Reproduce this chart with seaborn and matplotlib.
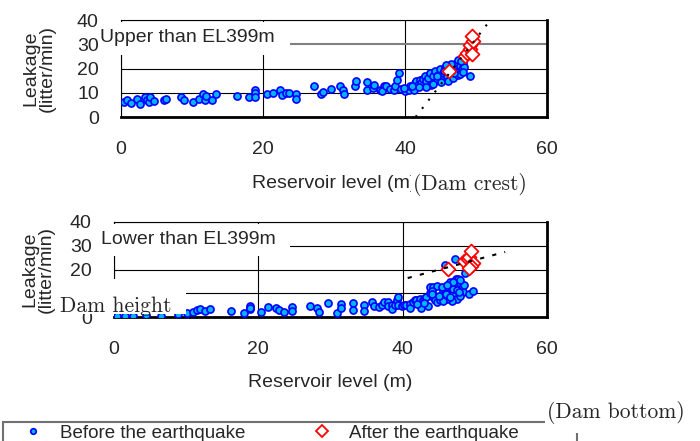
import seaborn as sns
import pandas as pd
import matplotlib.pyplot as plt
from matplotlib.patches import Rectangle
from matplotlib.lines import Line2D

# ---- data ----
# upper panel: "Upper than EL399m"
up_before_x = [0.4, 0.9, 1.4, 2.2, 2.7, 3.4, 3.6, 3.9, 4.1, 4.6, 6.0, 6.3, 8.4, 8.9, 10.1, 11.0,
               11.5, 11.9, 12.0, 12.8, 13.4, 16.3, 18.0, 18.9, 18.9, 18.9, 20.5, 21.4, 22.4, 22.7,
               23.3, 23.7, 24.7, 24.7, 27.2, 28.1, 28.5, 29.6, 30.8, 31.3, 31.4,
               33.0, 33.1, 34.6, 34.7, 35.5, 35.7, 36.5, 37.1,
               36.7, 37.3, 37.9, 38.4, 38.6, 38.9, 39.2, 39.4, 40.0, 40.5, 40.7, 41.2, 41.4, 41.6,
               41.9, 42.1, 42.3, 42.6, 42.8, 43.0, 43.3, 43.5, 43.7, 44.0, 44.2, 44.5, 44.7, 44.9,
               45.2, 45.4, 45.6, 45.9, 46.1, 46.3, 46.6, 46.8, 47.0, 47.3, 47.4, 47.5, 47.7, 48.0,
               48.2, 49.1, 47.2, 46.0, 45.0, 44.0, 43.0, 48.3, 47.8, 46.5, 45.5, 44.5, 42.0, 41.0,
               39.8, 47.9, 48.1, 46.9, 45.8]
up_before_y = [6.0, 7.1, 5.7, 7.4, 5.4, 8.1, 7.1, 6.0, 8.1, 6.7, 7.1, 7.6, 8.3, 7.2, 6.2, 7.5,
               9.3, 7.2, 8.5, 7.1, 9.6, 8.8, 8.1, 11.2, 9.7, 8.2, 9.3, 10.1, 11.0, 9.0,
               9.9, 9.9, 9.3, 7.6, 12.9, 9.6, 10.4, 11.5, 12.9, 11.0, 9.6,
               12.9, 15.0, 11.2, 14.3, 11.9, 13.2, 11.0, 12.6,
               10.8, 12.6, 11.5, 11.3, 12.6, 15.4, 18.2, 11.5, 10.9, 11.3, 12.6, 11.3, 14.0, 14.7,
               13.3, 15.4, 14.0, 15.7, 17.1, 14.7, 16.1, 18.2, 13.3, 16.8, 18.9, 15.4, 17.5, 19.6,
               16.1, 18.2, 20.3, 16.8, 14.7, 18.2, 20.3, 16.1, 21.7, 19.6, 23.5, 17.5, 21.0, 19.6,
               22.4, 16.8, 18.5, 19.8, 14.5, 13.5, 12.5, 20.5, 17.8, 22.0, 18.8, 17.0, 12.2, 12.8,
               11.8, 23.0, 18.4, 18.0, 21.3]
up_after_x = [46.2, 48.4, 48.7, 49.1, 49.2, 49.4, 49.6, 49.4]
up_after_y = [18.9, 25.1, 26.5, 27.9, 29.6, 25.8, 31.4, 33.5]
up_trend_x = [41.5, 52.0]
up_trend_y = [0.0, 39.9]

# lower panel: "Lower than EL399m"
low_before_x = [0.4, 1.5, 2.7, 4.5, 6.5, 8.9, 10.1, 11.0, 11.5, 11.9, 12.6, 13.3, 16.2, 18.0,
                18.8, 18.8, 18.9, 20.4, 21.4, 22.4, 22.8, 23.6, 24.7, 24.7, 27.2, 28.1, 28.4,
                29.6, 30.9, 31.4, 31.5, 33.1, 33.1, 34.7, 34.7, 35.7, 36.0, 36.7, 37.2, 37.4,
                37.9, 38.0, 38.5, 38.5, 38.9, 39.2, 39.4, 39.4, 39.9, 40.2, 40.5, 41.0, 41.0,
                41.5, 41.7, 41.9, 42.4, 42.6, 42.8, 43.1, 43.3, 43.5, 43.8, 44.2, 44.7, 43.8,
                44.0, 44.2, 44.5, 44.7, 45.2, 45.4, 45.6, 45.9, 46.1, 46.3, 46.5, 46.6, 46.8,
                47.0, 47.2, 47.4, 47.7, 47.9, 48.2, 48.3, 47.5, 46.8, 46.1, 45.6, 49.2, 49.7,
                45.9, 47.2, 48.6, 44.0, 45.0, 46.0, 47.0, 47.5, 48.0, 46.5, 45.5, 43.0, 42.0,
                48.5, 47.8, 47.0, 48.0, 46.2]
low_before_y = [0.4, 0.6, 0.4, 0.8, 0.6, 1.1, 1.5, 2.3, 2.9, 3.2, 2.6, 3.5, 2.5, 1.8,
                3.2, 4.6, 3.9, 2.1, 4.4, 3.8, 3.0, 2.1, 4.4, 2.4, 4.6, 3.6, 2.1,
                5.7, 1.5, 5.3, 3.8, 6.0, 2.9, 5.0, 2.4, 6.3, 4.6, 4.4, 5.0, 6.3,
                6.3, 4.6, 5.2, 3.5, 4.9, 7.2, 8.3, 4.9, 4.6, 5.2, 4.9, 5.5, 3.8,
                6.3, 7.2, 7.2, 7.7, 3.8, 7.2, 8.0, 8.6, 4.6, 12.8, 12.8, 13.1, 10.0,
                11.1, 8.6, 7.2, 6.3, 7.2, 8.6, 11.1, 10.0, 11.4, 12.5, 14.2, 14.7, 11.4,
                10.0, 13.4, 15.9, 16.1, 14.5, 12.2, 10.5, 7.7, 6.9, 7.7, 6.9, 9.7, 11.1,
                21.7, 24.3, 18.4, 9.5, 9.0, 9.5, 12.0, 11.5, 9.0, 8.5, 12.5, 6.0, 5.5,
                13.5, 10.5, 14.8, 15.5, 13.3]
low_after_x = [46.3, 48.5, 49.0, 49.2, 49.4, 49.8, 49.5, 49.2]
low_after_y = [20.2, 23.6, 24.5, 25.4, 27.9, 22.9, 21.4, 20.5]
low_trend_x = [40.7, 54.2]
low_trend_y = [16.4, 27.4]

x_ticks = [0, 20, 40, 60]
y_ticks = [0, 10, 20, 30, 40]

sns.set_style("white")
plt.rcParams["font.family"] = ["Liberation Sans", "DejaVu Sans"]
FS = 14
W, H = 700, 441
fig = plt.figure(figsize=(7, 4.41), dpi=100)


def fig_xy(x, y):
    return x / W, 1 - y / H


def white_box(x0, y0, x1, y1, z=5):
    fig.patches.append(Rectangle((x0 / W, 1 - y1 / H), (x1 - x0) / W, (y1 - y0) / H,
                                 transform=fig.transFigure, facecolor="white",
                                 edgecolor="none", zorder=z))


def panel(rect, bx, by, ax_, ay_, tx, ty, dash, label_x):
    ax = fig.add_axes(rect)
    sns.scatterplot(x=bx, y=by, ax=ax, marker="o", s=26, color="#00b4ff",
                    edgecolor="#0000ff", linewidth=1.2, zorder=3)
    sns.scatterplot(x=ax_, y=ay_, ax=ax, marker="D", s=50, color="white",
                    edgecolor="red", linewidth=1.3, zorder=4)
    sns.lineplot(x=tx, y=ty, ax=ax, color="black", lw=1.5, linestyle=dash, zorder=5)
    ax.set_xlim(0, 60)
    ax.set_ylim(0, 40)
    ax.set_xticks(x_ticks)
    ax.set_yticks(y_ticks)
    ax.grid(True, color="black", lw=0.8)
    ax.set_axisbelow(True)
    ax.tick_params(axis="y", length=0, pad=16, labelsize=FS)
    ax.tick_params(axis="x", length=0, pad=17, labelsize=FS)
    for s in ["left", "top"]:
        ax.spines[s].set_linewidth(0.8)
        ax.spines[s].set_color("black")
    for s in ["right", "bottom"]:
        ax.spines[s].set_linewidth(2)
        ax.spines[s].set_color("black")
    ax.set_xlabel("Reservoir level (m)", fontsize=FS)
    ax.xaxis.set_label_coords(0.5, -0.6)
    ax.set_ylabel("Leakage\n(litter/min)", fontsize=FS, linespacing=0.95)
    ax.yaxis.set_label_coords(label_x, 0.5)
    return ax


ax1 = panel([121 / W, 1 - 117 / H, 426 / W, 97 / H], up_before_x, up_before_y,
            up_after_x, up_after_y, up_trend_x, up_trend_y, (0, (1, 4)), -0.153)
ax1.get_ygridlines()[3].set_color("#808080")
ax1.get_ygridlines()[3].set_linewidth(1.5)

ax2 = panel([114 / W, 1 - 317 / H, 433 / W, 95 / H], low_before_x, low_before_y,
            low_after_x, low_after_y, low_trend_x, low_trend_y, (0, (2, 4)), -0.136)

# panel titles sitting on white boxes
white_box(99, 22, 290, 55)
fig.text(*fig_xy(100, 38), "Upper than EL399m", fontsize=FS, ha="left", va="center", zorder=6)
white_box(99, 224, 290, 256)
fig.text(*fig_xy(101, 239), "Lower than EL399m", fontsize=FS, ha="left", va="center", zorder=6)

# dam annotations
white_box(55, 279, 186, 314)
fig.text(*fig_xy(60, 312), "Dam height", family="cmr10", fontsize=15.5, ha="left",
         va="baseline", zorder=6)
white_box(411, 166, 530, 197)
fig.text(*fig_xy(413, 190), "(Dam crest)", family="cmr10", fontsize=15.5, ha="left",
         va="baseline", zorder=6)

# legend
fig.patches.append(Rectangle((3 / W, 1 - 470 / H), 574 / W, 48 / H, transform=fig.transFigure,
                             facecolor="none", edgecolor="#707070", lw=1.5, zorder=4))
white_box(545, 396, 700, 433)
fig.text(*fig_xy(547, 418), "(Dam bottom)", family="cmr10", fontsize=15.5, ha="left",
         va="baseline", zorder=6)
handles = [Line2D([], [], ls="none", marker="o", ms=4, mfc="#00b4ff", mec="#0000ff", mew=1.2),
           Line2D([], [], ls="none", marker="D", ms=6, mfc="white", mec="red", mew=1.3)]
fig.legend(handles, ["Before the earthquake", "After the earthquake"], loc="center left",
           bbox_to_anchor=fig_xy(23.6, 433), ncol=2, frameon=False, fontsize=13.5,
           handlelength=1, handletextpad=0.94, columnspacing=3.6, borderpad=0,
           borderaxespad=0)

fig.savefig("out.png", dpi=100)
